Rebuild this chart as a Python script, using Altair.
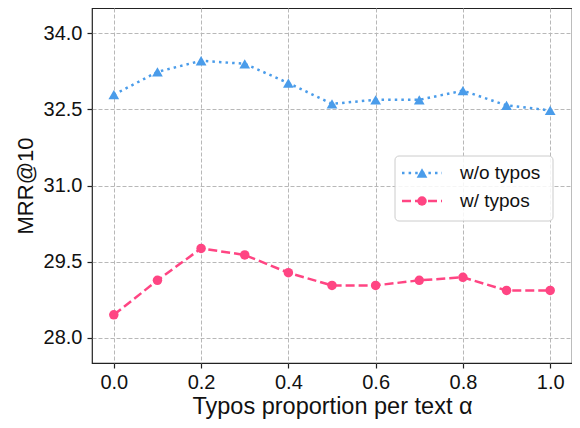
import altair as alt
import pandas as pd

# ---- data ----
alpha = [0.0, 0.1, 0.2, 0.3, 0.4, 0.5, 0.6, 0.7, 0.8, 0.9, 1.0]
wo_typos = [32.79, 33.24, 33.46, 33.40, 33.02, 32.61, 32.69, 32.69, 32.87, 32.58, 32.48]
w_typos = [28.45, 29.13, 29.76, 29.63, 29.28, 29.03, 29.03, 29.13, 29.19, 28.93, 28.93]
series_names = ["w/o typos", "w/ typos"]
x_ticks = [0.0, 0.2, 0.4, 0.6, 0.8, 1.0]
y_ticks = [28.0, 29.5, 31.0, 32.5, 34.0]

BLUE = "#4a9cea"
PINK = "#ff4583"
FONT = "Liberation Sans"

df_wo = pd.DataFrame({"alpha": alpha, "mrr": wo_typos, "series": series_names[0]})
df_w = pd.DataFrame({"alpha": alpha, "mrr": w_typos, "series": series_names[1]})

x_enc = alt.X("alpha:Q",
              scale=alt.Scale(domain=[-0.05, 1.05], nice=False, zero=False),
              axis=alt.Axis(values=x_ticks, format=".1f", title="Typos proportion per text α"))
y_enc = alt.Y("mrr:Q",
              scale=alt.Scale(domain=[27.5, 34.5], nice=False, zero=False),
              axis=alt.Axis(values=y_ticks, format=".1f", title="MRR@10"))

DOT = [2.5, 4.1]
DASH = [9, 4]
TRI = 115
CIR = 90

line_wo = alt.Chart(df_wo).mark_line(color=BLUE, strokeWidth=2.5, strokeDash=DOT,
                                     strokeCap="butt").encode(x=x_enc, y=y_enc)
pts_wo = alt.Chart(df_wo).mark_point(shape="triangle-up", filled=True, color=BLUE,
                                     size=TRI, opacity=1).encode(x=x_enc, y=y_enc)
line_w = alt.Chart(df_w).mark_line(color=PINK, strokeWidth=2.5, strokeDash=DASH).encode(x=x_enc, y=y_enc)
pts_w = alt.Chart(df_w).mark_point(shape="circle", filled=True, color=PINK,
                                   size=CIR, opacity=1).encode(x=x_enc, y=y_enc)

# ---- legend (drawn manually, positions in plot pixels) ----
one = pd.DataFrame({"k": [0]})
leg_box = alt.Chart(one).mark_rect(fill="white", fillOpacity=0.85, stroke="#cccccc",
                                   strokeWidth=1, cornerRadius=4).encode(
    x=alt.value(303), x2=alt.value(461), y=alt.value(148), y2=alt.value(213))

lab_df = pd.DataFrame({"label": series_names})
leg_layers = []
ys = [165, 193]
for i, (name, col) in enumerate(zip(series_names, [BLUE, PINK])):
    d = lab_df.iloc[[i]]
    if i == 0:
        ln = alt.Chart(d).mark_rule(color=col, strokeWidth=2.5, strokeDash=DOT, strokeCap="butt")
        pt = alt.Chart(d).mark_point(shape="triangle-up", filled=True, color=col, size=TRI, opacity=1)
    else:
        ln = alt.Chart(d).mark_rule(color=col, strokeWidth=2.5, strokeDash=DASH)
        pt = alt.Chart(d).mark_point(shape="circle", filled=True, color=col, size=CIR, opacity=1)
    leg_layers.append(ln.encode(x=alt.value(310), x2=alt.value(350), y=alt.value(ys[i])))
    leg_layers.append(pt.encode(x=alt.value(330), y=alt.value(ys[i])))
    leg_layers.append(alt.Chart(d).mark_text(align="left", baseline="middle", font=FONT,
                                             fontSize=19, color="#111").encode(
        text="label:N", x=alt.value(368), y=alt.value(ys[i])))

chart = alt.layer(line_wo, pts_wo, line_w, pts_w, leg_box, *leg_layers).properties(
    width=480, height=355,
    autosize=alt.AutoSizeParams(type="none"),
    padding={"left": 84, "top": 0, "right": 0, "bottom": 57},
).configure_view(
    stroke="#222222", strokeWidth=1.2
).configure_axis(
    grid=True, gridColor="#b8b8b8", gridDash=[4, 2], gridWidth=1,
    domain=False, tickColor="#222222", tickSize=5, tickWidth=1.2,
    labelFont=FONT, labelFontSize=20, labelColor="#111111",
    titleFont=FONT, titleFontWeight="normal", titleColor="#111111",
).configure_axisX(
    labelPadding=4, titlePadding=2, titleFontSize=23.5
).configure_axisY(
    labelPadding=5, titlePadding=6, titleFontSize=22
)

chart.save("out.html", embed_options={"renderer": "svg", "actions": False})
